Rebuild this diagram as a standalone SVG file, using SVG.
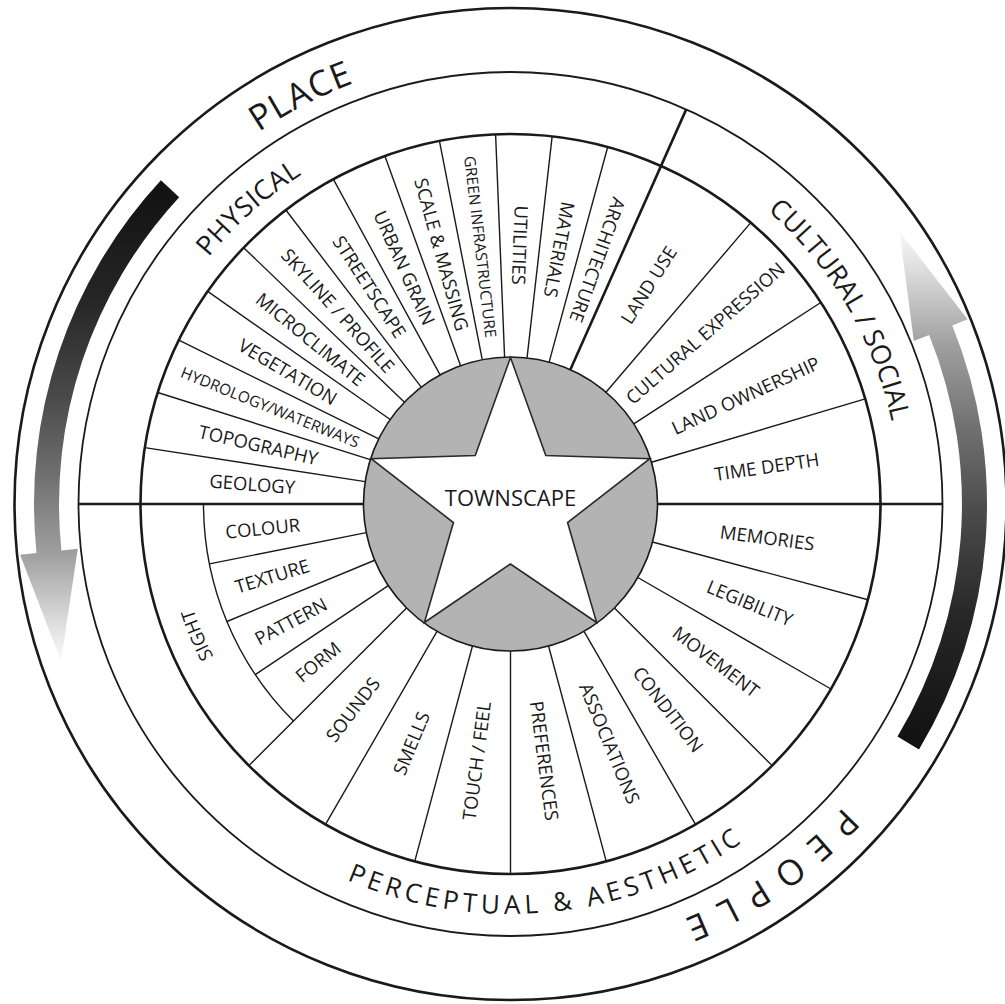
<svg xmlns="http://www.w3.org/2000/svg" xmlns:xlink="http://www.w3.org/1999/xlink" width="1005" height="1004" viewBox="0 0 1005 1004">
<style>
.thick{stroke:#1a1a1a;stroke-width:2.6;fill:none}
.mid{stroke:#1a1a1a;stroke-width:1.8;fill:none}
.thin{stroke:#1a1a1a;stroke-width:1.4;fill:none}
text{font-family:"Open Sans","Liberation Sans",sans-serif;fill:#1a1a1a}
.lbl{font-size:18.5px;text-anchor:middle}
.sm{font-size:15.5px}
.cat{font-size:27px}
.ring{font-size:35px}
</style>
<defs>
<linearGradient id="gL" gradientUnits="userSpaceOnUse" x1="0" y1="182" x2="0" y2="660">
<stop offset="0" stop-color="#111"/><stop offset="0.25" stop-color="#262626"/><stop offset="0.45" stop-color="#4a4a4a"/><stop offset="0.62" stop-color="#717171"/><stop offset="0.78" stop-color="#a0a0a0"/><stop offset="0.92" stop-color="#dcdcdc"/><stop offset="1" stop-color="#fafafa"/>
</linearGradient>
<linearGradient id="gR" gradientUnits="userSpaceOnUse" x1="0" y1="748" x2="0" y2="230">
<stop offset="0" stop-color="#111"/><stop offset="0.25" stop-color="#262626"/><stop offset="0.45" stop-color="#4a4a4a"/><stop offset="0.62" stop-color="#717171"/><stop offset="0.78" stop-color="#a0a0a0"/><stop offset="0.92" stop-color="#dcdcdc"/><stop offset="1" stop-color="#fafafa"/>
</linearGradient>
<path id="pPlace" d="M72.66 404.52 A449 449 0 0 1 684.5 90.1"/>
<path id="pPeople" d="M958.28 548.69 A450 450 0 0 1 388.73 937.21"/>
<path id="pPhys" d="M128.33 581.75 A390 390 0 0 1 634.25 134.16"/>
<path id="pCult" d="M574.87 119.35 A390 390 0 0 1 878.13 634.19"/>
<path id="pPerc" d="M141.06 681.8 A410 410 0 0 0 907.8 605.27"/>
<path id="pSight" d="M357.31 800.8 A334 334 0 0 1 191.61 404.68"/>
</defs>
<rect width="1005" height="1004" fill="#fff"/>
<g id="rings">
<circle cx="510.5" cy="504" r="496" class="thick" stroke-width="2.8"/>
<circle cx="510.5" cy="504" r="432" class="mid"/>
<circle cx="510.5" cy="504" r="370" class="thick"/>
<path d="M293.42 721.08 A307 307 0 0 1 203.5 504" class="thin"/>
</g>
<g id="arrows">
<path d="M160.9 180.3 A476.5 476.5 0 0 0 36.5 553 L20.1 554.7 L61 661 L77.8 548.7 L61.4 550.4 A451.5 451.5 0 0 1 179.2 197.2 Z" fill="url(#gL)"/>
<path d="M919 749.4 A476.5 476.5 0 0 0 952.3 325.5 L967.6 319.3 L899.5 231.5 L913.8 341 L929.1 334.9 A451.5 451.5 0 0 1 897.5 736.5 Z" fill="url(#gR)"/>
</g>
<g id="connectors">
<g class="thin">
<line x1="657.5" y1="504" x2="880.5" y2="504" transform="rotate(188.769 510.5 504)"/>
<line x1="657.5" y1="504" x2="880.5" y2="504" transform="rotate(197.538 510.5 504)"/>
<line x1="657.5" y1="504" x2="880.5" y2="504" transform="rotate(206.308 510.5 504)"/>
<line x1="657.5" y1="504" x2="880.5" y2="504" transform="rotate(215.077 510.5 504)"/>
<line x1="657.5" y1="504" x2="880.5" y2="504" transform="rotate(223.846 510.5 504)"/>
<line x1="657.5" y1="504" x2="880.5" y2="504" transform="rotate(232.615 510.5 504)"/>
<line x1="657.5" y1="504" x2="880.5" y2="504" transform="rotate(241.385 510.5 504)"/>
<line x1="657.5" y1="504" x2="880.5" y2="504" transform="rotate(250.154 510.5 504)"/>
<line x1="657.5" y1="504" x2="880.5" y2="504" transform="rotate(258.923 510.5 504)"/>
<line x1="657.5" y1="504" x2="880.5" y2="504" transform="rotate(267.692 510.5 504)"/>
<line x1="657.5" y1="504" x2="880.5" y2="504" transform="rotate(276.462 510.5 504)"/>
<line x1="657.5" y1="504" x2="880.5" y2="504" transform="rotate(285.231 510.5 504)"/>
<line x1="657.5" y1="504" x2="880.5" y2="504" transform="rotate(310.5 510.5 504)"/>
<line x1="657.5" y1="504" x2="880.5" y2="504" transform="rotate(327 510.5 504)"/>
<line x1="657.5" y1="504" x2="880.5" y2="504" transform="rotate(343.5 510.5 504)"/>
<line x1="657.5" y1="504" x2="880.5" y2="504" transform="rotate(15 510.5 504)"/>
<line x1="657.5" y1="504" x2="880.5" y2="504" transform="rotate(30 510.5 504)"/>
<line x1="657.5" y1="504" x2="880.5" y2="504" transform="rotate(45 510.5 504)"/>
<line x1="657.5" y1="504" x2="880.5" y2="504" transform="rotate(60 510.5 504)"/>
<line x1="657.5" y1="504" x2="880.5" y2="504" transform="rotate(75 510.5 504)"/>
<line x1="657.5" y1="504" x2="880.5" y2="504" transform="rotate(90 510.5 504)"/>
<line x1="657.5" y1="504" x2="880.5" y2="504" transform="rotate(105 510.5 504)"/>
<line x1="657.5" y1="504" x2="880.5" y2="504" transform="rotate(120 510.5 504)"/>
<line x1="657.5" y1="504" x2="880.5" y2="504" transform="rotate(135 510.5 504)"/>
<line x1="657.5" y1="504" x2="817.5" y2="504" transform="rotate(146.25 510.5 504)"/>
<line x1="657.5" y1="504" x2="817.5" y2="504" transform="rotate(157.5 510.5 504)"/>
<line x1="657.5" y1="504" x2="817.5" y2="504" transform="rotate(168.75 510.5 504)"/>
</g>
<g class="thick">
<line x1="657.5" y1="504" x2="942.5" y2="504"/>
<line x1="78.5" y1="504" x2="363.5" y2="504"/>
<line x1="657.5" y1="504" x2="942.5" y2="504" transform="rotate(294 510.5 504)"/>
</g>
</g>
<g id="townscape">
<circle cx="510.5" cy="504" r="147" fill="#b3b3b3" stroke="#1a1a1a" stroke-width="1.6"/>
<polygon points="510.5,357.5 545.77,455.46 649.83,458.73 567.56,522.54 596.61,622.52 510.5,564 424.39,622.52 453.44,522.54 371.17,458.73 475.23,455.46" fill="#fff" stroke="#2a2a2a" stroke-width="1.6" stroke-linejoin="miter"/>
<text x="510.5" y="506" font-size="22" text-anchor="middle">TOWNSCAPE</text>
</g>
<g id="ring-labels">
<text class="ring" letter-spacing="1"><textPath xlink:href="#pPlace" href="#pPlace" startOffset="50%" text-anchor="middle">PLACE</textPath></text>
<text class="ring" letter-spacing="14"><textPath xlink:href="#pPeople" href="#pPeople" startOffset="50%" text-anchor="middle">PEOPLE</textPath></text>
</g>
<g id="category-labels">
<text class="cat" letter-spacing="0.5"><textPath xlink:href="#pPhys" href="#pPhys" startOffset="50%" text-anchor="middle">PHYSICAL</textPath></text>
<text class="cat" font-size="26"><textPath xlink:href="#pCult" href="#pCult" startOffset="50%" text-anchor="middle">CULTURAL / SOCIAL</textPath></text>
<text font-size="26" letter-spacing="4.5"><textPath xlink:href="#pPerc" href="#pPerc" startOffset="50%" text-anchor="middle">PERCEPTUAL &amp; AESTHETIC</textPath></text>
<text font-size="18.5"><textPath xlink:href="#pSight" href="#pSight" startOffset="50%" text-anchor="middle">SIGHT</textPath></text>
</g>
<g id="physical">
<text class="lbl" dy="0.36em" transform="translate(510.5 504) rotate(184.385) translate(259 0) rotate(180)">GEOLOGY</text>
<text class="lbl" dy="0.36em" transform="translate(510.5 504) rotate(193.154) translate(259 0) rotate(180)">TOPOGRAPHY</text>
<text class="lbl sm" dy="0.36em" transform="translate(510.5 504) rotate(201.923) translate(259 0) rotate(180)">HYDROLOGY/WATERWAYS</text>
<text class="lbl" dy="0.36em" transform="translate(510.5 504) rotate(210.692) translate(259 0) rotate(180)">VEGETATION</text>
<text class="lbl" dy="0.36em" transform="translate(510.5 504) rotate(219.462) translate(259 0) rotate(180)">MICROCLIMATE</text>
<text class="lbl" dy="0.36em" transform="translate(510.5 504) rotate(228.231) translate(259 0) rotate(180)">SKYLINE / PROFILE</text>
<text class="lbl" dy="0.36em" transform="translate(510.5 504) rotate(237) translate(259 0) rotate(180)">STREETSCAPE</text>
<text class="lbl" dy="0.36em" transform="translate(510.5 504) rotate(245.769) translate(259 0) rotate(180)">URBAN GRAIN</text>
<text class="lbl" dy="0.36em" transform="translate(510.5 504) rotate(254.538) translate(259 0) rotate(180)">SCALE &amp; MASSING</text>
<text class="lbl sm" dy="0.36em" transform="translate(510.5 504) rotate(263.308) translate(259 0) rotate(180)">GREEN INFRASTRUCTURE</text>
<text class="lbl" dy="0.36em" transform="translate(510.5 504) rotate(272.077) translate(259 0) rotate(180)">UTILITIES</text>
<text class="lbl" dy="0.36em" transform="translate(510.5 504) rotate(280.846) translate(259 0) rotate(180)">MATERIALS</text>
<text class="lbl" dy="0.36em" transform="translate(510.5 504) rotate(289.615) translate(259 0) rotate(180)">ARCHITECTURE</text>
</g>
<g id="cultural">
<text class="lbl" dy="0.36em" transform="translate(510.5 504) rotate(302.25) translate(259 0)">LAND USE</text>
<text class="lbl" font-size="16" dy="0.36em" transform="translate(510.5 504) rotate(318.75) translate(259 0)">CULTURAL EXPRESSION</text>
<text class="lbl" dy="0.36em" transform="translate(510.5 504) rotate(335.25) translate(259 0)">LAND OWNERSHIP</text>
<text class="lbl" dy="0.36em" transform="translate(510.5 504) rotate(351.75) translate(259 0)">TIME DEPTH</text>
</g>
<g id="perceptual">
<text class="lbl" dy="0.36em" transform="translate(510.5 504) rotate(7.5) translate(259 0)">MEMORIES</text>
<text class="lbl" dy="0.36em" transform="translate(510.5 504) rotate(22.5) translate(259 0)">LEGIBILITY</text>
<text class="lbl" dy="0.36em" transform="translate(510.5 504) rotate(37.5) translate(259 0)">MOVEMENT</text>
<text class="lbl" dy="0.36em" transform="translate(510.5 504) rotate(52.5) translate(259 0)">CONDITION</text>
<text class="lbl" dy="0.36em" transform="translate(510.5 504) rotate(67.5) translate(259 0)">ASSOCIATIONS</text>
<text class="lbl" dy="0.36em" transform="translate(510.5 504) rotate(82.5) translate(259 0)">PREFERENCES</text>
<text class="lbl" dy="0.36em" transform="translate(510.5 504) rotate(97.5) translate(259 0) rotate(180)">TOUCH / FEEL</text>
<text class="lbl" dy="0.36em" transform="translate(510.5 504) rotate(112.5) translate(259 0) rotate(180)">SMELLS</text>
<text class="lbl" dy="0.36em" transform="translate(510.5 504) rotate(127.5) translate(259 0) rotate(180)">SOUNDS</text>
<text class="lbl" dy="0.36em" transform="translate(510.5 504) rotate(140.625) translate(249 0) rotate(180)">FORM</text>
<text class="lbl" dy="0.36em" transform="translate(510.5 504) rotate(151.875) translate(249 0) rotate(180)">PATTERN</text>
<text class="lbl" dy="0.36em" transform="translate(510.5 504) rotate(163.125) translate(249 0) rotate(180)">TEXTURE</text>
<text class="lbl" dy="0.36em" transform="translate(510.5 504) rotate(174.375) translate(249 0) rotate(180)">COLOUR</text>
</g>
</svg>
